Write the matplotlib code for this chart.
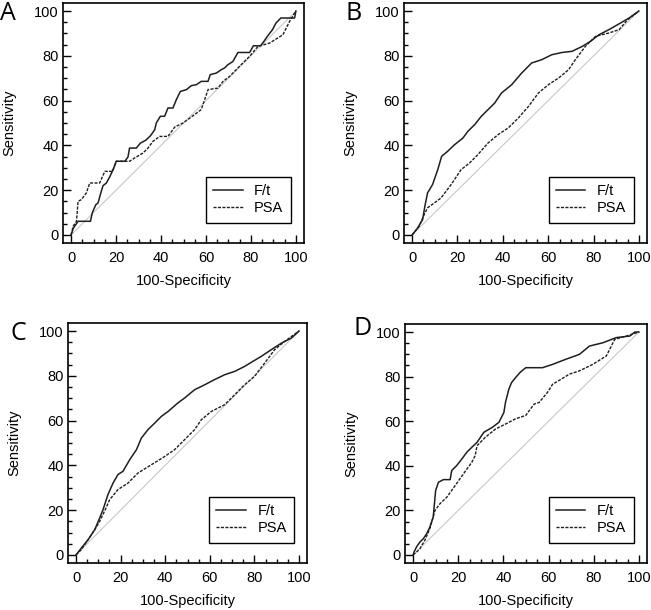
import matplotlib
matplotlib.use("Agg")
import matplotlib.pyplot as plt
from matplotlib.ticker import MultipleLocator

plt.rcParams['font.family'] = ['Liberation Sans', 'DejaVu Sans']

# ---------------- data ----------------
# Panel A
a_ft_x = [0, 1, 3.1, 8.6, 9.5, 11, 12, 13, 14.2, 15.7, 17.2, 18.7, 20.1, 23.9, 25.3, 26, 29, 30.8, 33.2,
          35.3, 37.2, 37.9, 39.7, 41.6, 43.1, 45.3, 46.8, 48.6, 51.3, 53.5, 55.7, 57.9, 60.9, 61.9, 64.6,
          66.8, 68.3, 69.7, 72.0, 74.2, 79.4, 81.1, 84.3, 85.8, 87.3, 89.6, 91.1, 93.3, 99.4, 100]
a_ft_y = [0, 3, 6.1, 6.1, 10.1, 13.5, 14.3, 18, 22, 23.2, 26, 29.2, 32.9, 32.9, 34.8, 38.8, 38.8, 41, 42.3,
          44.3, 47, 50, 53, 53, 56.7, 56.7, 60.4, 64.1, 64.9, 66.7, 67.1, 68.6, 68.6, 71.6, 72.3,
          73.8, 74.6, 76.0, 77.5, 81.5, 81.5, 84.5, 84.5, 86.5, 88.7, 91.7, 94.6, 96.9, 96.9, 100]
a_psa_x = [0, 0.9, 2.4, 3.1, 4.6, 6.8, 8.3, 12.7, 15, 18.4, 20.1, 26, 28.3, 32, 34.2, 36.4, 39.4, 43.1,
           46.1, 49.8, 53.5, 57.9, 59.4, 60.9, 65.3, 67.6, 70.5, 74.2, 79.4, 83.1, 88.3, 94.2, 97.2, 99.4, 100]
a_psa_y = [0, 3.9, 6.1, 15, 15.8, 18.8, 23.2, 23.2, 28.4, 28.4, 32.9, 32.9, 34.4, 36.6, 38.8, 41.8, 44, 44,
           48.2, 50, 52.7, 56, 60.4, 64.9, 65.6, 68.6, 70.8, 74.6, 79.8, 84.2, 85.7, 89.4, 95.4, 99.1, 100]

# Panel B
b_ft_x = [0, 2.4, 4.6, 5.6, 6.8, 9.0, 11.3, 13.0, 15.7, 18.7, 22.4, 24.6, 27.6, 30.5, 33.5, 36.4, 39.4,
          43.9, 48.3, 52.7, 57.2, 61.6, 66.1, 70.5, 75, 78.7, 82.4, 86.8, 91.3, 95.7, 100]
b_ft_y = [0, 3.1, 6.8, 12.8, 18.8, 22.5, 29.2, 35.1, 37.4, 40.3, 43.3, 46.3, 49.3, 53, 56, 58.9, 63.4,
          67.1, 72.3, 76.8, 78.3, 80.5, 81.5, 82.0, 84.2, 86.5, 89.4, 91.7, 94.3, 96.9, 100]
b_psa_x = [0, 3.1, 5.3, 6.8, 9.8, 12.7, 17.2, 21.6, 25.3, 29, 33.5, 37.9, 42.4, 46.8, 51.3, 55.7, 60.1,
           64.6, 69, 72, 76.4, 80.9, 86.8, 91.3, 95, 100]
b_psa_y = [0, 3.9, 9.1, 12.1, 14.3, 16.5, 22.5, 29.2, 32.1, 35.9, 41.1, 44.8, 47.8, 52.2, 57.4, 63.4, 67.1,
           70.1, 73.8, 78.3, 84.2, 88.7, 90.2, 91.7, 96.1, 100]

# Panel C
c_ft_x = [0, 2.4, 5.4, 8.4, 10.6, 12.1, 14.3, 16.6, 18.8, 21.1, 24.1, 27.1, 29.3, 32.3, 35.3, 38.3, 41.3,
          45.7, 48.7, 53.2, 57.7, 62.1, 66.7, 71.2, 75.6, 79.4, 83.1, 87.6, 92.1, 96.6, 100]
c_ft_y = [0, 3.1, 6.8, 11.3, 16.5, 20.2, 26.9, 32.1, 35.9, 37.4, 42.6, 47, 52.2, 56, 58.9, 61.9, 64.1,
          67.9, 70.1, 73.8, 76, 78.3, 80.5, 82, 84.2, 86.5, 88.7, 91.7, 94.6, 96.9, 100]
c_psa_x = [0, 2.4, 5.4, 8.4, 10.6, 13.1, 15.1, 18.8, 23.3, 27.8, 33.8, 39.8, 44.2, 48.7, 53.2, 56.2, 60.7,
           66.7, 71.2, 75.6, 80.1, 84.6, 89.1, 93.6, 100]
c_psa_y = [0, 2.4, 6.8, 11.3, 15, 20.2, 24.7, 29.2, 32.1, 36.6, 40.3, 44, 47, 51.5, 56, 60.4, 64.1,
           67.1, 71.6, 76, 79.8, 85.7, 91.7, 95.4, 100]

# Panel D
d_ft_x = [0, 0.4, 1.5, 3, 4.5, 6, 7.4, 8.9, 9.97, 11.2, 13.4, 16.4, 17.1, 19.3, 21.6, 23.8, 26, 28.3,
          31.3, 35, 38, 40.2, 40.9, 42.4, 43.6, 45.4, 47.6, 49.9, 57.3, 61.8, 67.7, 73.7, 78.1, 84.1,
          90, 96, 98.2, 100]
d_ft_y = [0, 1.3, 3.6, 5.8, 7.3, 9.5, 12.5, 17, 28.9, 32.6, 33.8, 33.8, 37.9, 40.1, 43.1, 46.1, 48.3, 50.5,
          55, 57.2, 59.5, 63.9, 68.4, 74.4, 77.3, 79.6, 82.1, 84, 84, 85.5, 87.8, 90, 93.7, 95.2,
          97.5, 98.2, 100, 100]
d_psa_x = [0, 1.5, 3, 5.2, 7.4, 9.7, 11.9, 14.9, 18.6, 22.3, 26, 27.5, 28.3, 32, 36.5, 40.9, 45.4, 49.9,
           53.6, 55.8, 59.5, 61.8, 65.5, 69.2, 73.7, 79.6, 85.6, 89.3, 94.5, 100]
d_psa_y = [0, 1.3, 2.8, 6.6, 11.8, 20, 23, 25.9, 31.1, 36.4, 41.6, 44.6, 49, 52.8, 56.5, 58.7, 61.1, 62.6,
           67.7, 68.4, 72.9, 76.6, 78.8, 81.1, 82.6, 85.5, 89.3, 96.7, 98.2, 100]

panel_labels = ["A", "B", "C", "D"]
series_labels = ["F/t", "PSA"]
ticks = [0, 20, 40, 60, 80, 100]
xlabel = "100-Specificity"
ylabel = "Sensitivity"

# ---------------- figure ----------------
W, H = 651, 610
fig = plt.figure(figsize=(W / 100, H / 100), dpi=100)

def rect(l, r, t, b):
    return [l / W, 1 - b / H, (r - l) / W, (b - t) / H]

rects = [rect(63, 304, 3, 243), rect(404, 647, 3, 243),
         rect(68, 307, 323, 563), rect(405, 647, 324, 563)]
letter_pos = [(0, 1), (346, 1), (10, 321), (354, 316)]

data = [(a_ft_x, a_ft_y, a_psa_x, a_psa_y),
        (b_ft_x, b_ft_y, b_psa_x, b_psa_y),
        (c_ft_x, c_ft_y, c_psa_x, c_psa_y),
        (d_ft_x, d_ft_y, d_psa_x, d_psa_y)]

line_col = "#1f1f1f"
for i, (r, d) in enumerate(zip(rects, data)):
    ax = fig.add_axes(r)
    fx, fy, px, py = d
    ax.plot([0, 100], [0, 100], color="#c8c8c8", lw=0.8, zorder=1)
    ax.plot(fx, fy, color=line_col, lw=1.1, label=series_labels[0], zorder=3)
    ax.plot(px, py, color=line_col, lw=1.0, ls=(0, (2.2, 1.0)), label=series_labels[1], zorder=2)
    ax.set_xlim(-3.6, 103.6)
    ax.set_ylim(-3.6, 103.6)
    ax.set_xticks(ticks)
    ax.set_yticks(ticks)
    ax.xaxis.set_minor_locator(MultipleLocator(5))
    ax.yaxis.set_minor_locator(MultipleLocator(5))
    ax.tick_params(which="both", direction="in", top=False, right=False, color="black", width=1.0)
    ax.tick_params(which="major", length=5.5, labelsize=10.5)
    ax.tick_params(which="minor", length=3)
    ax.tick_params(axis="x", which="major", pad=6)
    ax.tick_params(axis="y", which="major", pad=3)
    for s in ax.spines.values():
        s.set_linewidth(1.2)
        s.set_color("black")
    ax.set_xlabel(xlabel, fontsize=10.5, labelpad=6)
    ax.set_ylabel(ylabel, fontsize=10.5, labelpad=13)
    leg = ax.legend(loc="lower right", bbox_to_anchor=(0.945, 0.085), fontsize=10.5,
                    fancybox=False, framealpha=1, edgecolor="black", handlelength=2.0,
                    borderpad=0.5, labelspacing=0.2, handletextpad=0.8, borderaxespad=0)
    leg.get_frame().set_linewidth(1.0)
    lx, ly = letter_pos[i]
    fig.text(lx / W, 1 - ly / H, panel_labels[i], fontsize=18, family=["Open Sans", "DejaVu Sans"],
             ha="left", va="top")

fig.savefig("out.png", dpi=100)
